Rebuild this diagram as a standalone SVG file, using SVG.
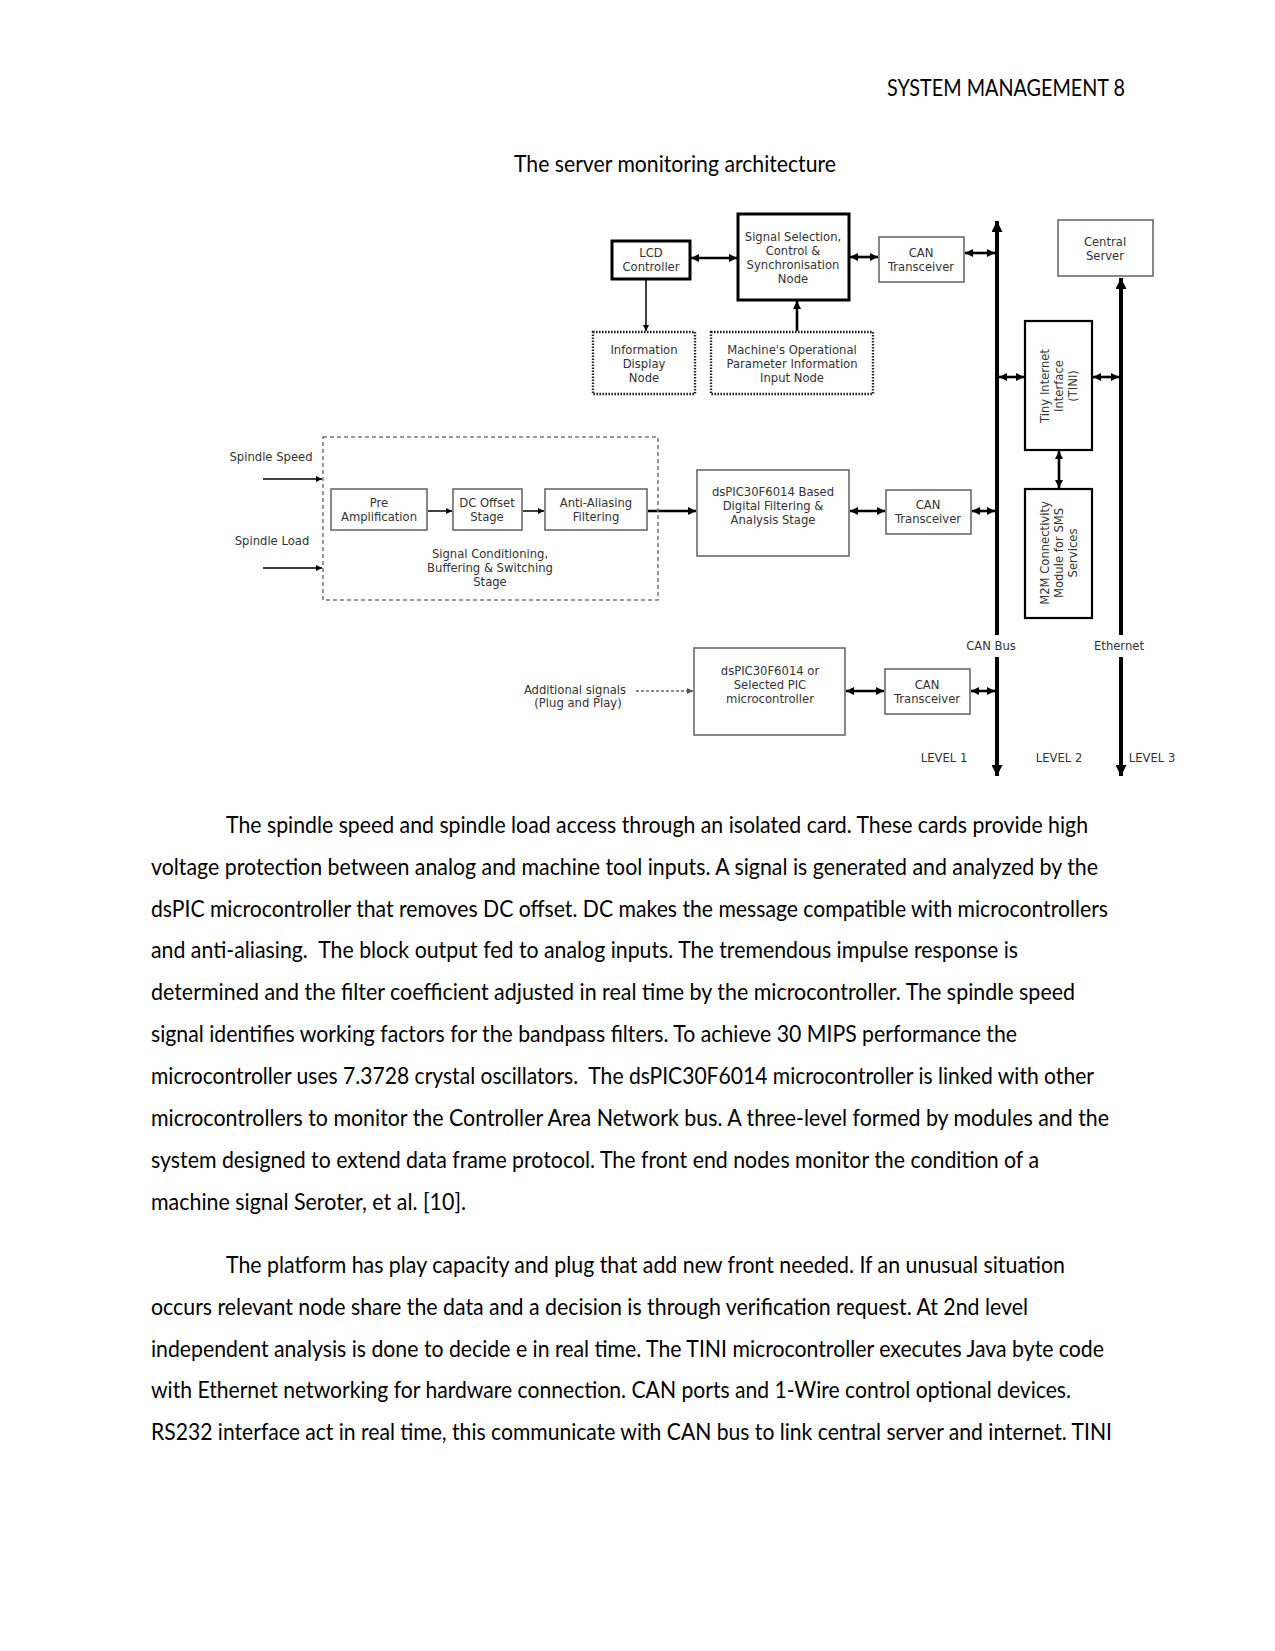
<svg xmlns="http://www.w3.org/2000/svg" width="1275" height="1651" viewBox="0 0 1275 1651">
<style>
.page{font-family:Lato,"Liberation Sans",sans-serif;font-size:22.4px;fill:#000}
.lbl{font-family:"DejaVu Sans","Liberation Sans",sans-serif;font-size:11.6px;fill:#333;text-anchor:middle;dominant-baseline:central}
.thick{fill:#fff;stroke:#000;stroke-width:3}
.thin{fill:#fff;stroke:#6a6a6a;stroke-width:1.6}
.dotted{fill:#fff;stroke:#222;stroke-width:2.4;stroke-dasharray:1.6 1.4}
.dashed{fill:none;stroke:#777;stroke-width:1.5;stroke-dasharray:4 3}
.w{stroke:#000;stroke-width:2.6;fill:none}
.n{stroke:#000;stroke-width:1.5;fill:none}
.bus{stroke:#000;stroke-width:4;fill:none}
</style>
<defs>
<marker id="ah" viewBox="0 0 10 10" refX="10" refY="5" markerWidth="8" markerHeight="8" markerUnits="userSpaceOnUse" orient="auto-start-reverse"><path d="M0,0 L10,5 L0,10 z" fill="#000"/></marker>
<marker id="ahs" viewBox="0 0 10 10" refX="10" refY="5" markerWidth="7" markerHeight="6" markerUnits="userSpaceOnUse" orient="auto-start-reverse"><path d="M0,0 L10,5 L0,10 z" fill="#000"/></marker>
<marker id="ahb" viewBox="0 0 10 10" refX="10" refY="5" markerWidth="13" markerHeight="11" markerUnits="userSpaceOnUse" orient="auto-start-reverse"><path d="M0,0 L10,5 L0,10 z" fill="#000"/></marker>
<marker id="ahg" viewBox="0 0 10 10" refX="10" refY="5" markerWidth="6" markerHeight="6" markerUnits="userSpaceOnUse" orient="auto"><path d="M0,0 L10,5 L0,10 z" fill="#555"/></marker>
</defs>
<rect width="1275" height="1651" fill="#fff"/>

<g id="header">
<text class="page" x="887" y="96" textLength="238" lengthAdjust="spacingAndGlyphs">SYSTEM MANAGEMENT 8</text>
<text class="page" x="514" y="172" textLength="322" lengthAdjust="spacingAndGlyphs">The server monitoring architecture</text>
</g>

<g id="connectors">
<line class="bus" x1="997" y1="635" x2="997" y2="221" marker-end="url(#ahb)"/>
<line class="bus" x1="997" y1="657" x2="997" y2="776" marker-end="url(#ahb)"/>
<line class="bus" x1="1121" y1="635" x2="1121" y2="278" marker-end="url(#ahb)"/>
<line class="bus" x1="1121" y1="657" x2="1121" y2="776" marker-end="url(#ahb)"/>
<line class="w" x1="691" y1="258" x2="737" y2="258" marker-start="url(#ah)" marker-end="url(#ah)"/>
<line class="w" x1="850" y1="257" x2="878" y2="257" marker-start="url(#ah)" marker-end="url(#ah)"/>
<line class="w" x1="965" y1="253" x2="995" y2="253" marker-start="url(#ah)" marker-end="url(#ah)"/>
<line class="n" x1="646" y1="280" x2="646" y2="331" marker-end="url(#ahs)"/>
<line class="w" x1="797" y1="331" x2="797" y2="301" marker-end="url(#ah)"/>
<line class="w" x1="999" y1="377" x2="1024" y2="377" marker-start="url(#ah)" marker-end="url(#ah)"/>
<line class="w" x1="1093" y1="377" x2="1119" y2="377" marker-start="url(#ah)" marker-end="url(#ah)"/>
<line class="w" x1="1059" y1="451" x2="1059" y2="488" marker-start="url(#ah)" marker-end="url(#ah)"/>
<line class="n" x1="263" y1="479" x2="322" y2="479" marker-end="url(#ahs)"/>
<line class="n" x1="263" y1="568" x2="322" y2="568" marker-end="url(#ahs)"/>
<line class="n" x1="428" y1="511" x2="452" y2="511" marker-end="url(#ahs)"/>
<line class="n" x1="523" y1="511" x2="544" y2="511" marker-end="url(#ahs)"/>
<line class="w" x1="648" y1="511" x2="696" y2="511" marker-end="url(#ah)"/>
<line class="w" x1="850" y1="511" x2="885" y2="511" marker-start="url(#ah)" marker-end="url(#ah)"/>
<line class="w" x1="972" y1="511" x2="995" y2="511" marker-start="url(#ah)" marker-end="url(#ah)"/>
<line x1="636" y1="691" x2="693" y2="691" stroke="#666" stroke-width="1.4" stroke-dasharray="3 2" marker-end="url(#ahg)"/>
<line class="w" x1="846" y1="691" x2="884" y2="691" marker-start="url(#ah)" marker-end="url(#ah)"/>
<line class="w" x1="971" y1="691" x2="995" y2="691" marker-start="url(#ah)" marker-end="url(#ah)"/>
</g>

<g id="lcd-controller">
<rect class="thick" x="612" y="241" width="78" height="38"/>
<text class="lbl" x="651" y="253">LCD</text>
<text class="lbl" x="651" y="267">Controller</text>
</g>
<g id="signal-selection">
<rect class="thick" x="738" y="214" width="111" height="86"/>
<text class="lbl" x="793" y="237">Signal Selection,</text>
<text class="lbl" x="793" y="251">Control &amp;</text>
<text class="lbl" x="793" y="265">Synchronisation</text>
<text class="lbl" x="793" y="279">Node</text>
</g>
<g id="can-transceiver-top">
<rect class="thin" x="879" y="237" width="85" height="45"/>
<text class="lbl" x="921" y="253">CAN</text>
<text class="lbl" x="921" y="267">Transceiver</text>
</g>
<g id="information-display">
<rect class="dotted" x="593" y="332" width="102" height="62"/>
<text class="lbl" x="644" y="350">Information</text>
<text class="lbl" x="644" y="364">Display</text>
<text class="lbl" x="644" y="378">Node</text>
</g>
<g id="machine-parameter-input">
<rect class="dotted" x="711" y="332" width="162" height="62"/>
<text class="lbl" x="792" y="350">Machine's Operational</text>
<text class="lbl" x="792" y="364">Parameter Information</text>
<text class="lbl" x="792" y="378">Input Node</text>
</g>
<g id="central-server">
<rect class="thin" x="1058" y="220" width="95" height="56"/>
<text class="lbl" x="1105" y="242">Central</text>
<text class="lbl" x="1105" y="256">Server</text>
</g>
<g id="tini">
<rect fill="#fff" stroke="#000" stroke-width="2.2" x="1025" y="321" width="67" height="129"/>
<g transform="translate(1059 386) rotate(-90)">
<text class="lbl" x="0" y="-14">Tiny Internet</text>
<text class="lbl" x="0" y="0">Interface</text>
<text class="lbl" x="0" y="14">(TINI)</text>
</g>
</g>
<g id="m2m">
<rect fill="#fff" stroke="#000" stroke-width="2.2" x="1025" y="489" width="67" height="129"/>
<g transform="translate(1059 553) rotate(-90)">
<text class="lbl" x="0" y="-14">M2M Connectivity</text>
<text class="lbl" x="0" y="0">Module for SMS</text>
<text class="lbl" x="0" y="14">Services</text>
</g>
</g>
<g id="signal-conditioning">
<rect class="dashed" x="323" y="437" width="335" height="163"/>
<text class="lbl" x="490" y="554">Signal Conditioning,</text>
<text class="lbl" x="490" y="568">Buffering &amp; Switching</text>
<text class="lbl" x="490" y="582">Stage</text>
</g>
<g id="spindle-inputs">
<text class="lbl" x="271" y="457">Spindle Speed</text>
<text class="lbl" x="272" y="541">Spindle Load</text>
</g>
<g id="pre-amplification">
<rect class="thin" x="331" y="489" width="96" height="41"/>
<text class="lbl" x="379" y="503">Pre</text>
<text class="lbl" x="379" y="517">Amplification</text>
</g>
<g id="dc-offset">
<rect class="thin" x="453" y="489" width="69" height="41"/>
<text class="lbl" x="487" y="503">DC Offset</text>
<text class="lbl" x="487" y="517">Stage</text>
</g>
<g id="anti-aliasing">
<rect class="thin" x="545" y="489" width="102" height="41"/>
<text class="lbl" x="596" y="503">Anti-Aliasing</text>
<text class="lbl" x="596" y="517">Filtering</text>
</g>
<g id="dspic-analysis">
<rect class="thin" x="697" y="470" width="152" height="86"/>
<text class="lbl" x="773" y="492">dsPIC30F6014 Based</text>
<text class="lbl" x="773" y="506">Digital Filtering &amp;</text>
<text class="lbl" x="773" y="520">Analysis Stage</text>
</g>
<g id="can-transceiver-mid">
<rect class="thin" x="886" y="490" width="85" height="44"/>
<text class="lbl" x="928" y="505">CAN</text>
<text class="lbl" x="928" y="519">Transceiver</text>
</g>
<g id="dspic-plugplay">
<rect class="thin" x="694" y="648" width="151" height="87"/>
<text class="lbl" x="770" y="671">dsPIC30F6014 or</text>
<text class="lbl" x="770" y="685">Selected PIC</text>
<text class="lbl" x="770" y="699">microcontroller</text>
</g>
<g id="can-transceiver-bottom">
<rect class="thin" x="885" y="669" width="85" height="45"/>
<text class="lbl" x="927" y="685">CAN</text>
<text class="lbl" x="927" y="699">Transceiver</text>
</g>
<g id="additional-signals">
<text class="lbl" x="575" y="690">Additional signals</text>
<text class="lbl" x="578" y="703">(Plug and Play)</text>
</g>
<g id="bus-labels">
<text class="lbl" x="991" y="646">CAN Bus</text>
<text class="lbl" x="1119" y="646">Ethernet</text>
<text class="lbl" x="944" y="758">LEVEL 1</text>
<text class="lbl" x="1059" y="758">LEVEL 2</text>
<text class="lbl" x="1152" y="758">LEVEL 3</text>
</g>

<g id="body">
<text class="page" x="226" y="833" textLength="862" lengthAdjust="spacingAndGlyphs">The spindle speed and spindle load access through an isolated card. These cards provide high</text>
<text class="page" x="151" y="875" textLength="947" lengthAdjust="spacingAndGlyphs">voltage protection between analog and machine tool inputs. A signal is generated and analyzed by the</text>
<text class="page" x="151" y="917" textLength="957" lengthAdjust="spacingAndGlyphs">dsPIC microcontroller that removes DC offset. DC makes the message compatible with microcontrollers</text>
<text class="page" x="151" y="958" textLength="867" lengthAdjust="spacingAndGlyphs" xml:space="preserve">and anti-aliasing.  The block output fed to analog inputs. The tremendous impulse response is</text>
<text class="page" x="151" y="1000" textLength="924" lengthAdjust="spacingAndGlyphs">determined and the filter coefficient adjusted in real time by the microcontroller. The spindle speed</text>
<text class="page" x="151" y="1042" textLength="866" lengthAdjust="spacingAndGlyphs">signal identifies working factors for the bandpass filters. To achieve 30 MIPS performance the</text>
<text class="page" x="151" y="1084" textLength="943" lengthAdjust="spacingAndGlyphs" xml:space="preserve">microcontroller uses 7.3728 crystal oscillators.  The dsPIC30F6014 microcontroller is linked with other</text>
<text class="page" x="151" y="1126" textLength="958" lengthAdjust="spacingAndGlyphs">microcontrollers to monitor the Controller Area Network bus. A three-level formed by modules and the</text>
<text class="page" x="151" y="1168" textLength="888" lengthAdjust="spacingAndGlyphs">system designed to extend data frame protocol. The front end nodes monitor the condition of a</text>
<text class="page" x="151" y="1210" textLength="315" lengthAdjust="spacingAndGlyphs">machine signal Seroter, et al. [10].</text>
<text class="page" x="226" y="1273" textLength="839" lengthAdjust="spacingAndGlyphs">The platform has play capacity and plug that add new front needed. If an unusual situation</text>
<text class="page" x="151" y="1315" textLength="877" lengthAdjust="spacingAndGlyphs">occurs relevant node share the data and a decision is through verification request. At 2nd level</text>
<text class="page" x="151" y="1357" textLength="953" lengthAdjust="spacingAndGlyphs">independent analysis is done to decide e in real time. The TINI microcontroller executes Java byte code</text>
<text class="page" x="151" y="1398" textLength="920" lengthAdjust="spacingAndGlyphs">with Ethernet networking for hardware connection. CAN ports and 1-Wire control optional devices.</text>
<text class="page" x="151" y="1440" textLength="961" lengthAdjust="spacingAndGlyphs">RS232 interface act in real time, this communicate with CAN bus to link central server and internet. TINI</text>
</g>
</svg>
